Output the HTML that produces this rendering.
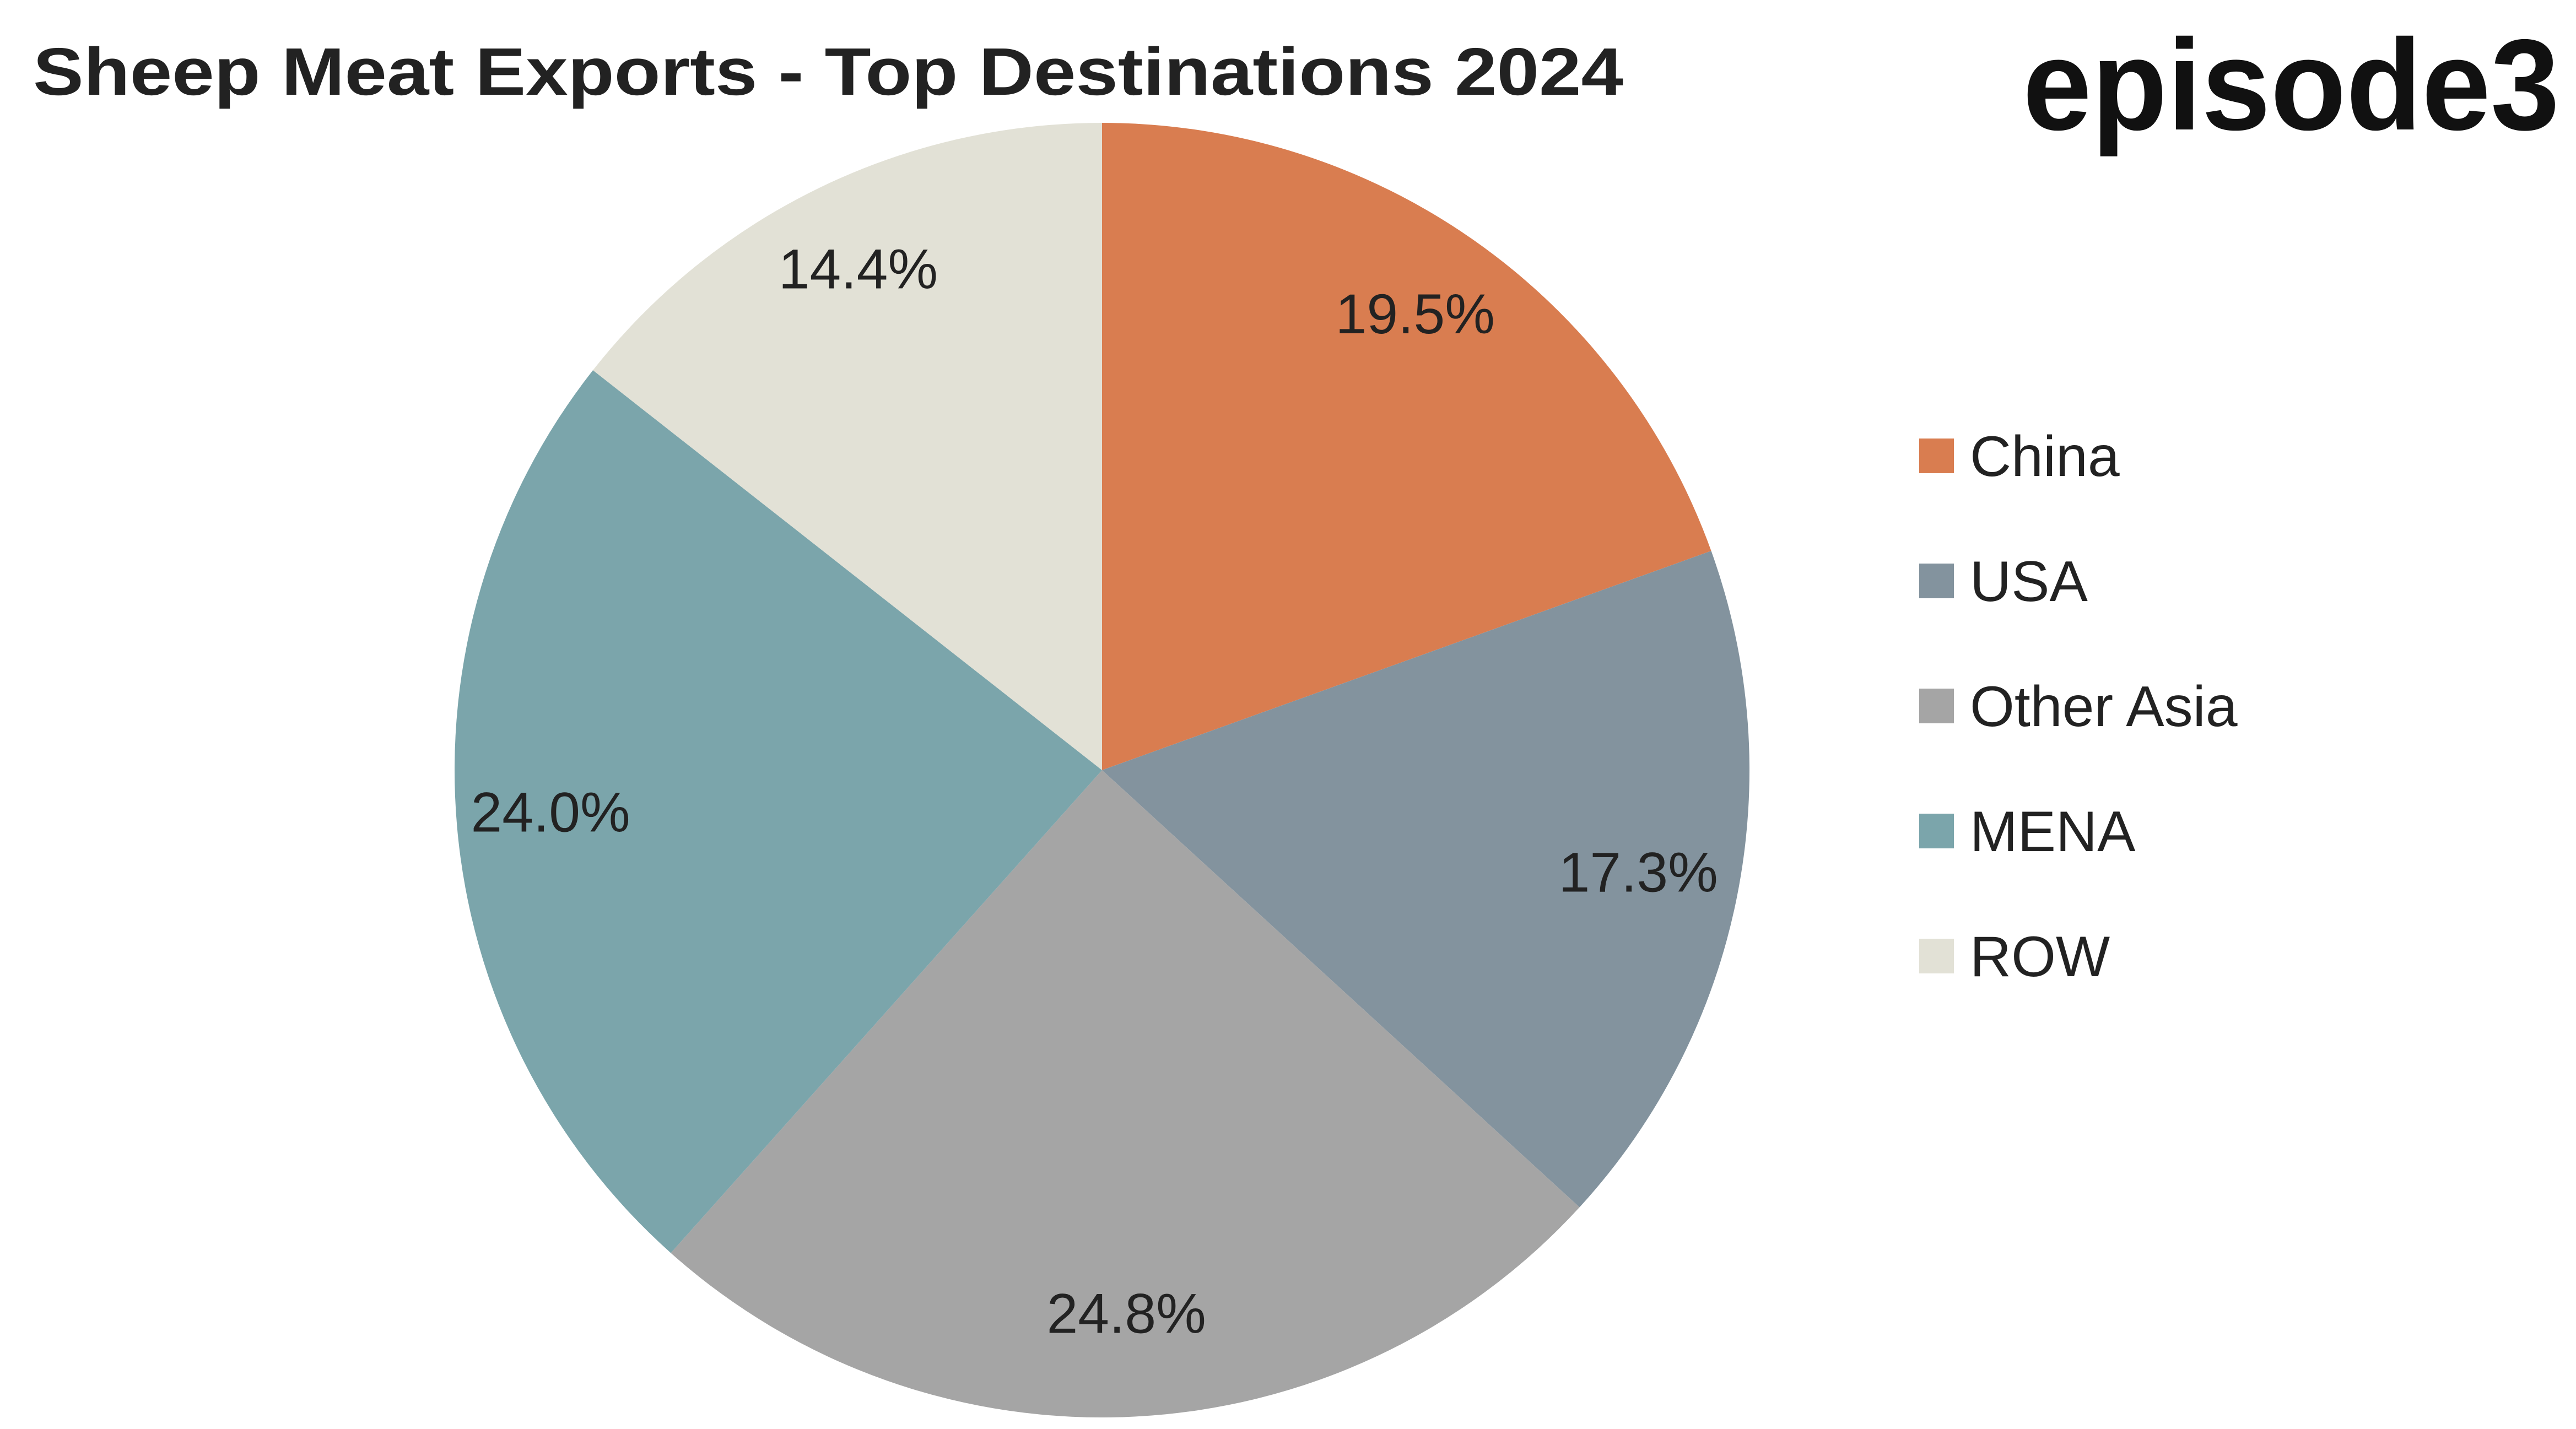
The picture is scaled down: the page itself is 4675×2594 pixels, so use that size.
<!DOCTYPE html>
<html><head><meta charset="utf-8"><style>
html,body{margin:0;padding:0;background:#fff;}
svg{display:block;}
</style></head><body>
<svg id="chart" width="4675" height="2594" viewBox="0 0 4675 2594" xmlns="http://www.w3.org/2000/svg">
<rect width="4675" height="2594" fill="#fff"/>
<text x="60" y="172" font-family="Liberation Sans, sans-serif" font-weight="bold" font-size="122" fill="#222" textLength="2886" lengthAdjust="spacingAndGlyphs">Sheep Meat Exports - Top Destinations 2024</text>
<text x="3671" y="235" font-family="Liberation Sans, sans-serif" font-weight="bold" font-size="235" fill="#111" textLength="974" lengthAdjust="spacingAndGlyphs">episode3</text>
<g id="slices"></g>
<g id="labels"></g>
<g id="legend"></g>
</svg>
<script>
const categories = ["China","USA","Other Asia","MENA","ROW"];
const values = [19.5,17.3,24.8,24.0,14.4];
const valueLabels = ["19.5%","17.3%","24.8%","24.0%","14.4%"];
const colors = ["#D97D50","#83939E","#A5A5A5","#7BA5AB","#E2E1D6"];
const NS="http://www.w3.org/2000/svg";
const cx=2000, cy=1398, r=1175;
const total=values.reduce((a,b)=>a+b,0);
const slices=document.getElementById('slices');
const labels=document.getElementById('labels');
const legend=document.getElementById('legend');
function pt(frac,rad){const a=frac*2*Math.PI;return [cx+rad*Math.sin(a), cy-rad*Math.cos(a)];}
let cum=0;
values.forEach((v,i)=>{
  const s=cum/total, e=(cum+v)/total; cum+=v;
  const [x1,y1]=pt(s,r),[x2,y2]=pt(e,r);
  const large=(e-s)>0.5?1:0;
  const p=document.createElementNS(NS,'path');
  p.setAttribute('d',`M${cx},${cy} L${x1},${y1} A${r},${r} 0 ${large} 1 ${x2},${y2} Z`);
  p.setAttribute('fill',colors[i]);
  
  
  slices.appendChild(p);
  const [lx,ly]=pt((s+e)/2,r*0.85);
  const t=document.createElementNS(NS,'text');
  t.setAttribute('x',lx-6);t.setAttribute('y',ly+24);
  t.setAttribute('text-anchor','middle');
  t.setAttribute('font-family','Liberation Sans, sans-serif');
  t.setAttribute('font-size','102');t.setAttribute('fill','#222');
  t.textContent=valueLabels[i];
  
  
  labels.appendChild(t);
  const ly2=828+i*227;
  const g=document.createElementNS(NS,'g');
  
  
  const sq=document.createElementNS(NS,'rect');
  sq.setAttribute('x',3483);sq.setAttribute('y',ly2-32);sq.setAttribute('width',63);sq.setAttribute('height',63);
  sq.setAttribute('fill',colors[i]);
  
  
  const lt=document.createElementNS(NS,'text');
  lt.setAttribute('x',3575);lt.setAttribute('y',ly2+36);
  lt.setAttribute('font-family','Liberation Sans, sans-serif');
  lt.setAttribute('font-size','104');lt.setAttribute('fill','#222');
  lt.textContent=categories[i];
  
  
  g.appendChild(sq);g.appendChild(lt);legend.appendChild(g);
});
</script>
</body></html>
